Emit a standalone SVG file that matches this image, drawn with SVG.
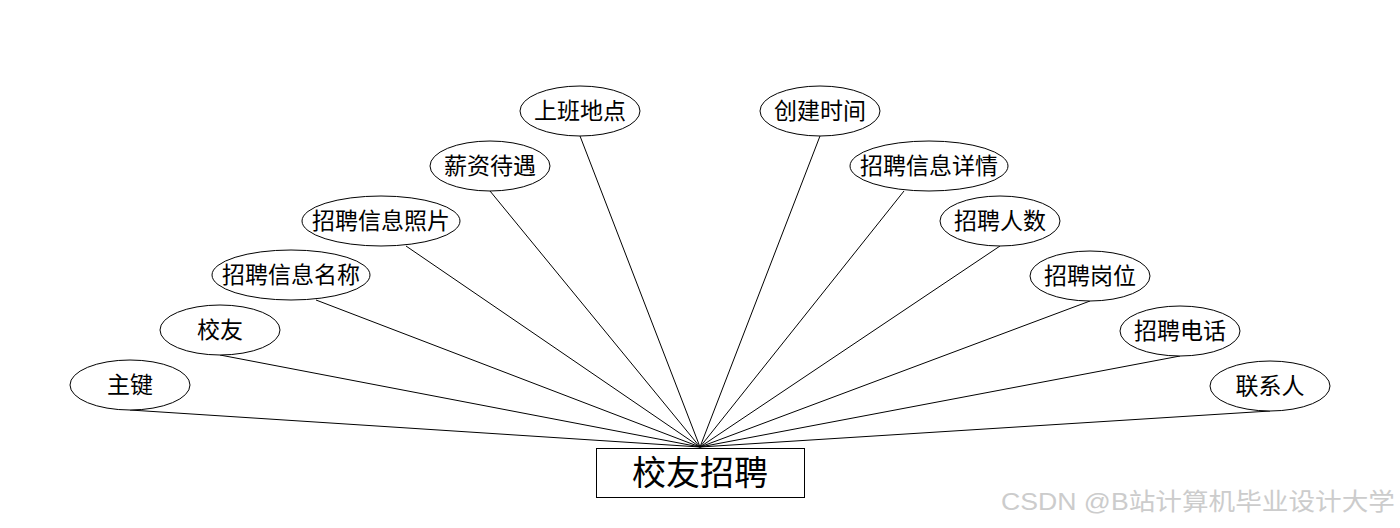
<svg xmlns="http://www.w3.org/2000/svg" width="1400" height="528" viewBox="0 0 1400 528">
<style>
.e{fill:#fff;stroke:#000;stroke-width:1}
.t{font-family:"Noto Sans CJK SC","Microsoft YaHei",sans-serif;font-size:23px;fill:#000;text-anchor:middle}
.c line{stroke:#000;stroke-width:1}
</style>
<rect width="1400" height="528" fill="#fff"/>
<g class="c" id="connectors">
<line x1="130" y1="410" x2="700" y2="447"/>
<line x1="220" y1="355" x2="700" y2="447"/>
<line x1="316" y1="300" x2="700" y2="447"/>
<line x1="406" y1="246" x2="700" y2="447"/>
<line x1="490" y1="191" x2="700" y2="447"/>
<line x1="580" y1="136" x2="700" y2="447"/>
<line x1="820" y1="136" x2="700" y2="447"/>
<line x1="904" y1="191" x2="700" y2="447"/>
<line x1="1000" y1="246" x2="700" y2="447"/>
<line x1="1090" y1="301" x2="700" y2="447"/>
<line x1="1180" y1="356" x2="700" y2="447"/>
<line x1="1270" y1="411" x2="700" y2="447"/>
</g>
<g id="n-zhujian"><ellipse class="e" cx="130" cy="385" rx="60" ry="25"/><text class="t" x="130" y="393">主键</text></g>
<g id="n-xiaoyou"><ellipse class="e" cx="220" cy="330" rx="60" ry="25"/><text class="t" x="220" y="338">校友</text></g>
<g id="n-mingcheng"><ellipse class="e" cx="291" cy="275" rx="79" ry="25"/><text class="t" x="291" y="283">招聘信息名称</text></g>
<g id="n-zhaopian"><ellipse class="e" cx="381" cy="221" rx="79" ry="25"/><text class="t" x="381" y="229">招聘信息照片</text></g>
<g id="n-xinzi"><ellipse class="e" cx="490" cy="166" rx="60" ry="25"/><text class="t" x="490" y="174">薪资待遇</text></g>
<g id="n-didian"><ellipse class="e" cx="580" cy="111" rx="60" ry="25"/><text class="t" x="580" y="119">上班地点</text></g>
<g id="n-shijian"><ellipse class="e" cx="820" cy="111" rx="60" ry="25"/><text class="t" x="820" y="119">创建时间</text></g>
<g id="n-xiangqing"><ellipse class="e" cx="929" cy="166" rx="79" ry="25"/><text class="t" x="929" y="174">招聘信息详情</text></g>
<g id="n-renshu"><ellipse class="e" cx="1000" cy="221" rx="60" ry="25"/><text class="t" x="1000" y="229">招聘人数</text></g>
<g id="n-gangwei"><ellipse class="e" cx="1090" cy="276" rx="60" ry="25"/><text class="t" x="1090" y="284">招聘岗位</text></g>
<g id="n-dianhua"><ellipse class="e" cx="1180" cy="331" rx="60" ry="25"/><text class="t" x="1180" y="339">招聘电话</text></g>
<g id="n-lianxiren"><ellipse class="e" cx="1270" cy="386" rx="60" ry="25"/><text class="t" x="1270" y="394">联系人</text></g>
<g id="n-main"><rect x="596.5" y="448.5" width="208" height="49" fill="#fff" stroke="#000"/><text class="t" x="700" y="485" style="font-size:34px">校友招聘</text></g>
<text x="1001" y="510" textLength="394" lengthAdjust="spacingAndGlyphs" style="font-family:'Liberation Sans','Noto Sans CJK SC',sans-serif;font-size:24px;fill:#cccccc">CSDN @B站计算机毕业设计大学</text>
</svg>
